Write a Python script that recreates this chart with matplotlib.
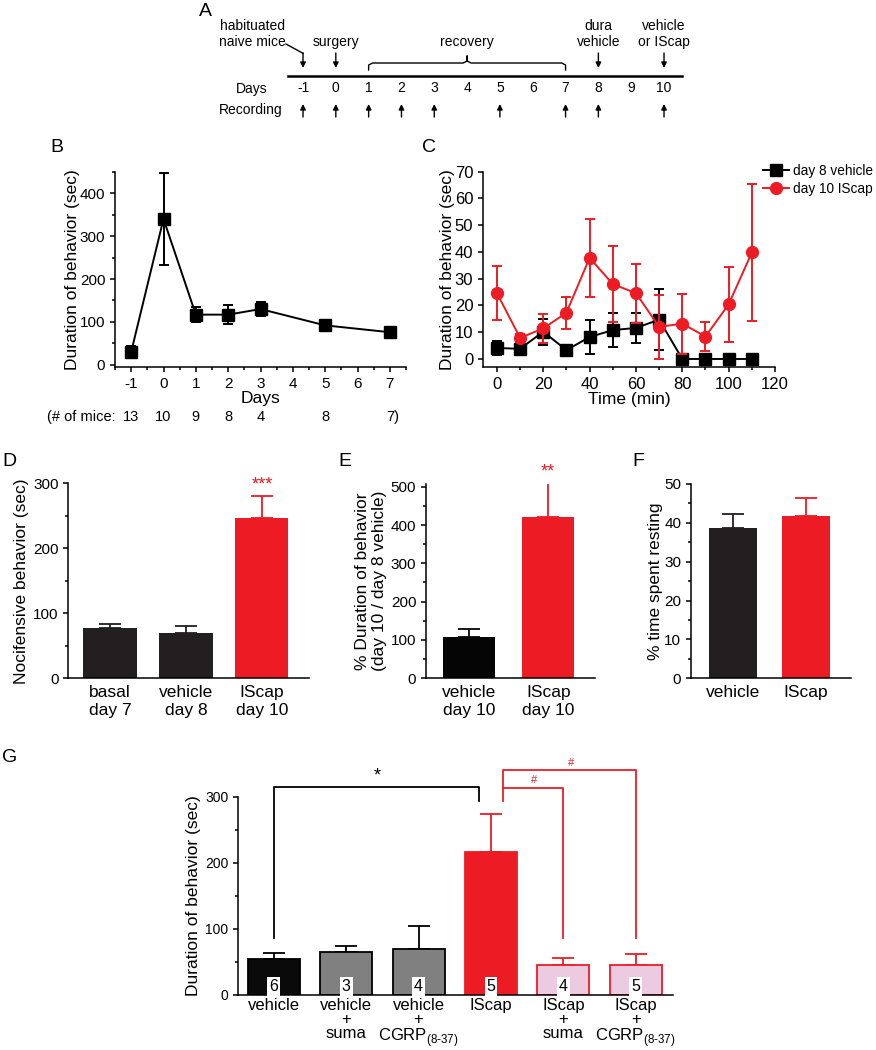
import matplotlib
matplotlib.use("Agg")
import matplotlib.pyplot as plt
from matplotlib.lines import Line2D
from matplotlib.ticker import MultipleLocator
import numpy as np

plt.rcParams["font.family"] = ["Liberation Sans", "DejaVu Sans"]
plt.rcParams["mathtext.fontset"] = "custom"
plt.rcParams["mathtext.rm"] = "Liberation Sans"
plt.rcParams["axes.unicode_minus"] = False
plt.rcParams["axes.linewidth"] = 1.1
plt.rcParams["xtick.major.width"] = 1.1
plt.rcParams["ytick.major.width"] = 1.1
plt.rcParams["xtick.minor.width"] = 1.1
plt.rcParams["ytick.minor.width"] = 1.1
plt.rcParams["xtick.major.size"] = 3.5
plt.rcParams["ytick.major.size"] = 3.5
plt.rcParams["xtick.minor.size"] = 2.5
plt.rcParams["ytick.minor.size"] = 2.5

RED = "#ED1C24"
DARK = "#231F20"
GREY = "#808080"
PINK = "#EBCAE2"

# --------------------------------------------------
# Data
# --------------------------------------------------
# A: timeline
a_days = [-1, 0, 1, 2, 3, 4, 5, 6, 7, 8, 9, 10]
a_rec_days = [-1, 0, 1, 2, 3, 5, 7, 8, 10]
a_event_days = [-1, 0, 8, 10]
a_event_labels = ["habituated\nnaive mice", "surgery", "dura\nvehicle", "vehicle\nor IScap"]
a_recovery = (1, 7)

# B: time course after surgery
b_days = [-1, 0, 1, 2, 3, 5, 7]
b_mean = [30, 340, 117, 117, 130, 92, 76]
b_sem = [15, 107, 18, 22, 17, 13, 12]
b_mice = ["13", "10", "9", "8", "4", "8", "7)"]

# C: within-session time course
c_time = [0, 10, 20, 30, 40, 50, 60, 70, 80, 90, 100, 110]
c_veh_mean = [4.1, 3.8, 10.2, 3.3, 8.2, 10.8, 11.6, 14.7, 0, 0, 0, 0]
c_veh_sem = [2.5, 1.0, 4.8, 2.0, 6.2, 6.3, 5.5, 11.5, 0, 0, 0, 0]
c_isc_mean = [24.6, 7.9, 11.4, 17.3, 37.8, 28.0, 24.6, 12.0, 13.2, 8.4, 20.4, 39.8]
c_isc_sem = [10.2, 1.5, 5.4, 6.0, 14.6, 14.3, 11.0, 12.0, 11.2, 5.6, 14.0, 25.5]

# D
d_labels = ["basal\nday 7", "vehicle\nday 8", "IScap\nday 10"]
d_mean = [78, 69, 246]
d_sem = [5.5, 12, 34]

# E
e_labels = ["vehicle\nday 10", "IScap\nday 10"]
e_mean = [109, 420]
e_sem = [19, 89]

# F
f_labels = ["vehicle", "IScap"]
f_mean = [38.7, 41.8]
f_sem = [3.5, 4.5]

# G
sub = r"$_{\text{(8-37)}}$"
g_labels = ["vehicle", "vehicle\n+\nsuma", "vehicle\n+\nCGRP" + sub,
            "IScap", "IScap\n+\nsuma", "IScap\n+\nCGRP" + sub]
g_mean = [55, 65, 69, 217, 45, 46]
g_sem = [9, 9.6, 36, 57, 10.5, 16.5]
g_n = ["6", "3", "4", "5", "4", "5"]

W, H = 876, 1050
fig = plt.figure(figsize=(W / 100, H / 100), dpi=100)


def px_axes(left, top, right, bottom):
    return fig.add_axes([left / W, 1 - bottom / H, (right - left) / W, (bottom - top) / H])


def style(ax):
    ax.spines["top"].set_visible(False)
    ax.spines["right"].set_visible(False)
    ax.tick_params(direction="out")


def panel_letter(x, y, s):
    fig.text(x / W, 1 - y / H, s, fontsize=14, ha="center", va="center")


def bar_panel(ax, means, sems, colors, edges, errcols, width, capsize, lw=0):
    x = np.arange(len(means))
    ax.bar(x, means, width=width, color=colors, edgecolor=edges, linewidth=lw, zorder=2)
    for xi, m, s, ec in zip(x, means, sems, errcols):
        ax.errorbar([xi], [m], yerr=[[0], [s]], fmt="none", ecolor=ec,
                    elinewidth=1.3, capsize=capsize, capthick=1.3, zorder=1)
    ax.tick_params(axis="x", length=0, pad=5)
    return x


# --------------------------------------------------
# Panel A: timeline
# --------------------------------------------------
ax_a = fig.add_axes([0, 1 - 125 / H, 1, 125 / H])
ax_a.set_xlim(-1 - 303 / 32.82, -1 + 573 / 32.82)
ax_a.set_ylim(125, 0)
ax_a.axis("off")
fa = 10
ax_a.plot([-1.46, 10.55], [75.5, 75.5], color="k", lw=1.8)
for d in a_days:
    ax_a.text(d, 88.5, str(d), ha="center", va="center", fontsize=fa)
ax_a.text(-2.07, 88.5, "Days", ha="right", va="center", fontsize=fa)
ax_a.text(-1.61, 110, "Recording", ha="right", va="center", fontsize=fa)
arrow = dict(arrowstyle="-|>", color="k", lw=1.0, mutation_scale=8, shrinkA=0, shrinkB=0)
for d in a_rec_days:
    ax_a.annotate("", xy=(d, 104), xytext=(d, 117), arrowprops=arrow)
for d in a_event_days:
    ax_a.annotate("", xy=(d, 68), xytext=(d, 53), arrowprops=arrow)
# event labels
ax_a.text(-2.55, 34, a_event_labels[0], ha="center", va="center", fontsize=fa, linespacing=1.15)
ax_a.plot([-1.52, -1.0], [44, 53.3], color="k", lw=1.0)
ax_a.text(0, 42, a_event_labels[1], ha="center", va="center", fontsize=fa)
ax_a.text(8, 34, a_event_labels[2], ha="center", va="center", fontsize=fa, linespacing=1.15)
ax_a.text(10, 34, a_event_labels[3], ha="center", va="center", fontsize=fa, linespacing=1.15)
# recovery brace
b0, b1 = a_recovery
mid = (b0 + b1) / 2
r = 0.12
bx = [b0, b0, b0 + r, mid - r, mid, mid, mid, mid + r, b1 - r, b1, b1]
by = [70, 65, 63, 63, 61, 56, 61, 63, 63, 65, 70]
ax_a.plot(bx, by, color="k", lw=1.0)
ax_a.text(mid, 42, "recovery", ha="center", va="center", fontsize=fa)

# --------------------------------------------------
# Panel B
# --------------------------------------------------
ax_b = px_axes(115, 171.7, 406, 367)
style(ax_b)
ax_b.errorbar(b_days, b_mean, yerr=b_sem, fmt="-s", color="k", ms=8.5, lw=1.4,
              elinewidth=1.4, capsize=3.5, capthick=1.4)
ax_b.set_xlim(-1.5, 7.5)
ax_b.set_ylim(-5, 450)
ax_b.set_xticks(range(-1, 8))
ax_b.xaxis.set_minor_locator(MultipleLocator(0.5))
ax_b.set_yticks([0, 100, 200, 300, 400])
ax_b.yaxis.set_minor_locator(MultipleLocator(50))
ax_b.tick_params(labelsize=11)
ax_b.set_xlabel("Days", fontsize=12.5, labelpad=0)
ax_b.set_ylabel("Duration of behavior (sec)", fontsize=12.5, labelpad=0)
ax_b.text(-1.48, -0.255, "(# of mice:", transform=ax_b.get_xaxis_transform(),
          ha="right", va="center", fontsize=10.5)
for d, n in zip(b_days, b_mice):
    ax_b.text(d + (0.1 if n.endswith(")") else 0), -0.255, n,
              transform=ax_b.get_xaxis_transform(), ha="center", va="center", fontsize=10.5)

# --------------------------------------------------
# Panel C
# --------------------------------------------------
ax_c = px_axes(483, 171.7, 775, 367)
style(ax_c)
ax_c.errorbar(c_time, c_veh_mean, yerr=c_veh_sem, fmt="-s", color="k", ms=8, lw=1.4,
              elinewidth=1.4, capsize=3.5, capthick=1.4, zorder=2, clip_on=False)
ax_c.errorbar(c_time, c_isc_mean, yerr=c_isc_sem, fmt="-o", color=RED, ms=8.5, lw=1.4,
              elinewidth=1.4, capsize=3.5, capthick=1.4, zorder=3, clip_on=False)
ax_c.set_xlim(-6, 120)
ax_c.set_ylim(-3, 70)
ax_c.set_xticks(range(0, 121, 20))
ax_c.xaxis.set_minor_locator(MultipleLocator(10))
ax_c.set_yticks(range(0, 71, 10))
ax_c.tick_params(labelsize=12)
ax_c.set_xlabel("Time (min)", fontsize=12.5, labelpad=0)
ax_c.set_ylabel("Duration of behavior (sec)", fontsize=12.5, labelpad=0)
handles = [Line2D([], [], color="k", marker="s", ms=8, lw=1.4),
           Line2D([], [], color=RED, marker="o", ms=8.5, lw=1.4)]
ax_c.legend(handles, ["day 8 vehicle", "day 10 IScap"], loc="upper left",
            bbox_to_anchor=(0.935, 1.075), frameon=False, fontsize=9.8,
            handlelength=1.9, handletextpad=0.3, borderpad=0, labelspacing=0.3)

# --------------------------------------------------
# Panel D
# --------------------------------------------------
ax_d = px_axes(68.3, 483.3, 309, 678.3)
style(ax_d)
xd = bar_panel(ax_d, d_mean, d_sem, [DARK, DARK, RED], "none", [DARK, DARK, RED], 0.70, 8)
ax_d.set_xlim(-0.55, 2.62)
ax_d.set_ylim(0, 300)
ax_d.set_xticks(xd, d_labels, fontsize=12.5, linespacing=1.2)
ax_d.set_yticks([0, 100, 200, 300])
ax_d.yaxis.set_minor_locator(MultipleLocator(50))
ax_d.tick_params(axis="y", labelsize=11)
ax_d.set_ylabel("Nocifensive behavior (sec)", fontsize=12.5, labelpad=3)
ax_d.text(2, d_mean[2] + d_sem[2] + 5, "***", color=RED, ha="center", va="bottom", fontsize=13)

# --------------------------------------------------
# Panel E
# --------------------------------------------------
ax_e = px_axes(426, 484, 595, 678.3)
style(ax_e)
xe = bar_panel(ax_e, e_mean, e_sem, ["#050505", RED], "none", ["#050505", RED], 0.66, 8)
ax_e.set_xlim(-0.54, 1.59)
ax_e.set_ylim(0, 507)
ax_e.set_xticks(xe, e_labels, fontsize=12.5, linespacing=1.2)
ax_e.set_yticks(range(0, 501, 100))
ax_e.yaxis.set_minor_locator(MultipleLocator(50))
ax_e.tick_params(axis="y", labelsize=11)
ax_e.set_ylabel("% Duration of behavior\n(day 10 / day 8 vehicle)", fontsize=12.5,
                labelpad=3, linespacing=1.15)
ax_e.text(1, e_mean[1] + e_sem[1] + 6, "**", color=RED, ha="center", va="bottom",
          fontsize=13, clip_on=False)

# --------------------------------------------------
# Panel F
# --------------------------------------------------
ax_f = px_axes(691, 484, 851, 678.3)
style(ax_f)
xf = bar_panel(ax_f, f_mean, f_sem, [DARK, RED], "none", [DARK, RED], 0.66, 8)
ax_f.set_xlim(-0.57, 1.62)
ax_f.set_ylim(0, 50)
ax_f.set_xticks(xf, f_labels, fontsize=12.5)
ax_f.set_yticks(range(0, 51, 10))
ax_f.yaxis.set_minor_locator(MultipleLocator(5))
ax_f.tick_params(axis="y", labelsize=11)
ax_f.set_ylabel("% time spent resting", fontsize=12.5, labelpad=1)

# --------------------------------------------------
# Panel G
# --------------------------------------------------
ax_g = px_axes(238.3, 796.7, 672.7, 995)
style(ax_g)
g_fill = ["#0A0A0A", GREY, GREY, RED, PINK, PINK]
g_edge = ["k", "k", "k", RED, RED, RED]
xg = bar_panel(ax_g, g_mean, g_sem, g_fill, g_edge, g_edge, 0.72, 8, lw=1.3)
ax_g.set_xlim(-0.49, 5.51)
ax_g.set_ylim(0, 300)
ax_g.set_xticks(xg, g_labels, fontsize=12, linespacing=0.93, va="top")
ax_g.tick_params(axis="x", pad=2)
ax_g.set_yticks([0, 100, 200, 300])
ax_g.yaxis.set_minor_locator(MultipleLocator(50))
ax_g.tick_params(axis="y", labelsize=10)
ax_g.set_ylabel("Duration of behavior (sec)", fontsize=12.5, labelpad=3)
for xi, n in zip(xg, g_n):
    ax_g.text(xi, 13, n, ha="center", va="center", fontsize=11.5,
              bbox=dict(fc="white", ec="none", pad=1.4), zorder=4)

# significance brackets
low, lv1, lv2, lv3 = 86, 294, 313, 340
ax_g.plot([0, 0, 2.83, 2.83], [low, lv2 + 1, lv2 + 1, lv1], color="k", lw=1.3, clip_on=False)
ax_g.text(1.43, lv2 + 5, "*", ha="center", va="bottom", fontsize=13)
ax_g.plot([3.16, 3.16, 4, 4], [lv1, lv2, lv2, low], color=RED, lw=1.3, clip_on=False)
ax_g.plot([3.16, 3.16, 5, 5], [lv2, lv3, lv3, low], color=RED, lw=1.3, clip_on=False)
ax_g.text(3.6, lv2 + 4, "#", color=RED, ha="center", va="bottom", fontsize=8)
ax_g.text(4.1, lv3 + 4, "#", color=RED, ha="center", va="bottom", fontsize=8)

# panel letters
panel_letter(205, 12, "A")
panel_letter(57, 148, "B")
panel_letter(429, 148, "C")
panel_letter(9, 462, "D")
panel_letter(345, 462, "E")
panel_letter(638, 462, "F")
panel_letter(10, 757, "G")

fig.savefig("out.png", dpi=100)
